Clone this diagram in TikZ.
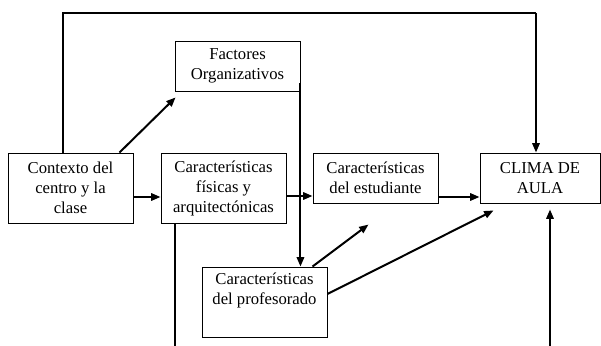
\documentclass[tikz,border=0pt]{standalone}
\usepackage{fontspec}
\setmainfont{Liberation Serif}
\usepackage{tikz}
\usetikzlibrary{arrows.meta}

% sizes of the boxes (1px = 0.75pt)
\tikzset{
  caja/.style={draw, line width=0.7pt, align=center, inner sep=0pt,
    minimum width=93.75pt, font=\fontsize{12.5}{15}\selectfont},
  alta/.style={minimum height=52.5pt},
  baja/.style={minimum height=37.5pt},
  flecha/.style={->, line width=1.5pt},
  linea/.style={line width=1pt}
}

\begin{document}
\begin{tikzpicture}[>={Triangle[length=7pt,width=5.5pt]},x=0.75pt,y=-0.75pt]
  \useasboundingbox (0,0) rectangle (601,346);
  % boxes
  \node[caja, alta] (ctx) at (70.5,188)
    {Contexto del\\centro y la\\clase};
  \node[caja, baja] (fac) at (237.5,66)
    {Factores\\Organizativos};
  \node[caja, alta] (fis) at (223.5,188)
    {Características\\físicas y\\arquitectónicas};
  \node[caja, baja] (est) at (375.5,178)
    {Características\\del estudiante};
  \node[caja, baja, minimum width=90pt] (clima) at (540,178)
    {CLIMA DE\\AULA};
  \node[caja, alta] (prof) at (264.5,302)
    {Características\\del profesorado\\\strut};

  % frame over the top
  \coordinate (topL) at (63,13);
  \coordinate (topR) at (536,13);
  \draw[linea] (topL |- ctx.north) -- (topL) -- (topR);
  \draw[flecha] (topR) -- (topR |- clima.north);

  % arrows
  \draw[flecha] ([shift={(-14,0)}]ctx.north east) -- ([shift={(1,6)}]fac.south west);
  \draw[flecha] ([shift={(0,9)}]ctx.east) -- ([shift={(0,9)}]fis.west);
  \draw[flecha] ([shift={(0,8)}]fis.east) -- ([shift={(0,18)}]est.west);
  \draw[flecha] ([shift={(0,19)}]est.east) -- ([shift={(0,19)}]clima.west);
  \draw[flecha] ([shift={(0,17)}]fac.east) -- (prof.north -| fac.east);
  \draw[flecha] ([shift={(48,0)}]prof.north) -- ++(56,-42);
  \draw[flecha] ([shift={(0,-8)}]prof.east) -- ([shift={(14,7)}]clima.south west);
  \draw[<-, line width=1.5pt] ([shift={(10,6)}]clima.south) -- ++(0,137);
  \draw[linea] ([shift={(-48.5,0)}]fis.south) -- ++(0,123);
\end{tikzpicture}
\end{document}
